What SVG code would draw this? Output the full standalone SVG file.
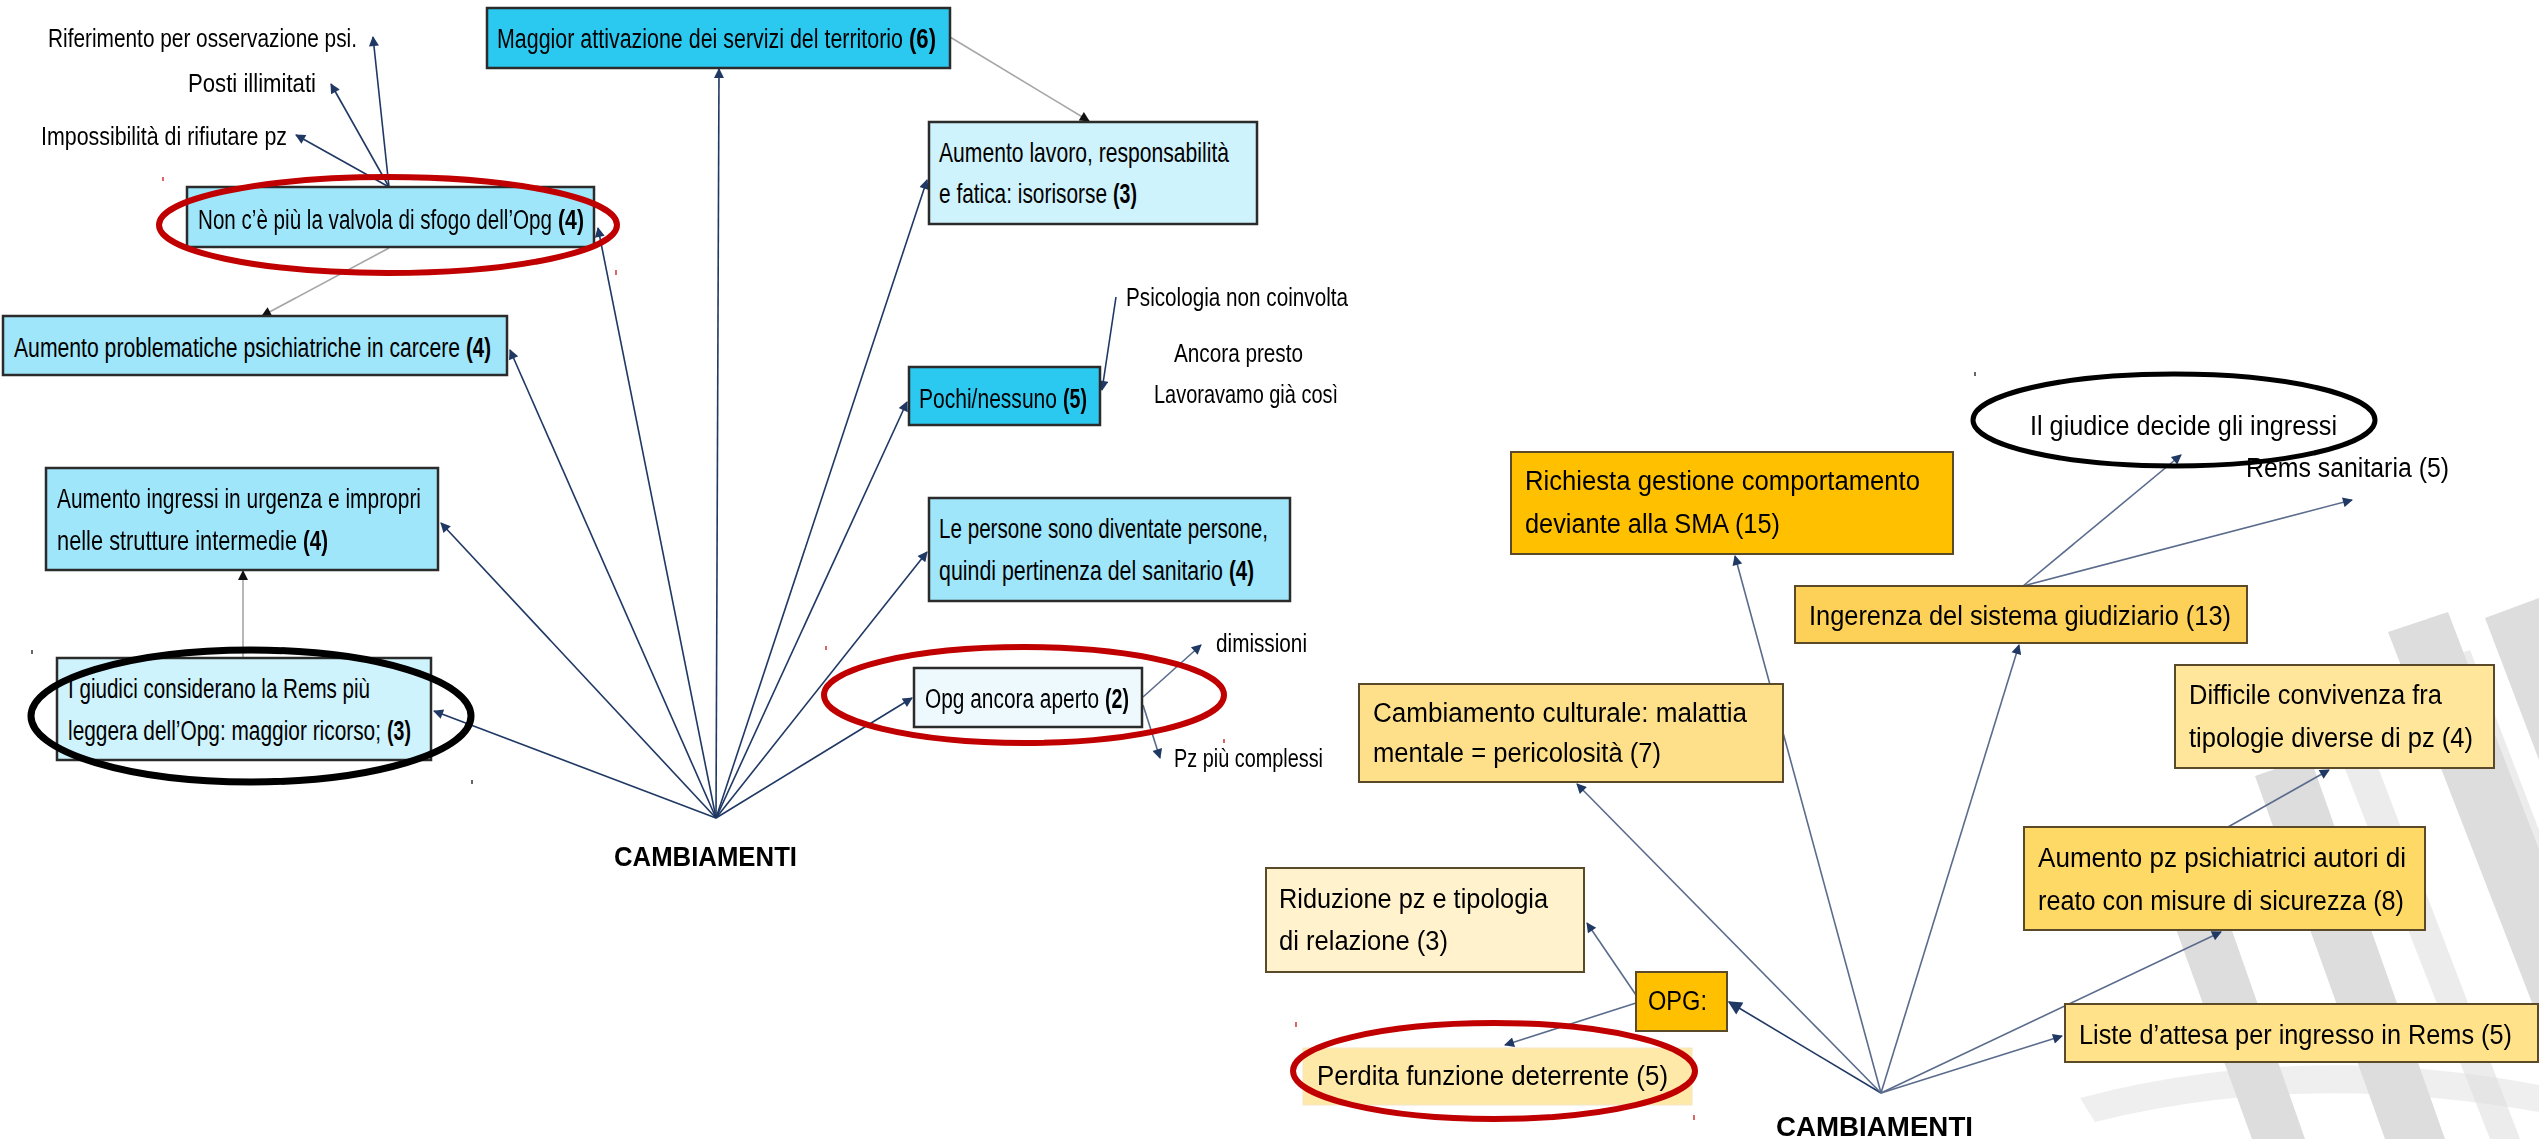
<svg xmlns="http://www.w3.org/2000/svg" width="2539" height="1139" viewBox="0 0 2539 1139">
<style>
.t{font-family:"Liberation Sans",Arial,sans-serif;fill:#000;font-size:28px}
.r{font-size:27px}
.s{font-size:25px}
.b{font-weight:bold}
.bx{stroke:#2b2b2b;stroke-width:2.5}
.by{stroke:#5a4a2a;stroke-width:2}
.c1{fill:#2bc8f0}.c2{fill:#a0e6fa}.c3{fill:#cff3fd}.c4{fill:#eef9fe}
.o1{fill:#ffc000}.o2{fill:#fdd058}.o3{fill:#fee08b}.o4{fill:#ffe69a}.o5{fill:#ffd966}.o6{fill:#ffe28a}.o7{fill:#fff2cc}
.ln{stroke:#1f3864;stroke-width:1.6;fill:none}
.lr{stroke:#5a6b8c;stroke-width:1.6;fill:none}
.lg{stroke:#a6a6a6;stroke-width:1.6;fill:none}
.ell{fill:none}
.tick{stroke-width:1.2}
</style>
<defs>
<marker id="an" viewBox="0 0 10 10" refX="9" refY="5" markerWidth="13" markerHeight="10" markerUnits="userSpaceOnUse" orient="auto"><path d="M0,0 L10,5 L0,10 z" fill="#1f3864"/></marker>
<marker id="anL" viewBox="0 0 10 10" refX="9" refY="5" markerWidth="18" markerHeight="14" markerUnits="userSpaceOnUse" orient="auto"><path d="M0,0 L10,5 L0,10 z" fill="#1f3864"/></marker>
<marker id="ab" viewBox="0 0 10 10" refX="9" refY="5" markerWidth="13" markerHeight="10" markerUnits="userSpaceOnUse" orient="auto"><path d="M0,0 L10,5 L0,10 z" fill="#111"/></marker>
</defs>
<rect width="2539" height="1139" fill="#fff"/>

<g id="watermark" fill="#8c8c8c" opacity="0.3">
<polygon points="2388,632 2448,612 2650,1139 2585,1139"/>
<polygon points="2485,618 2539,598 2539,760"/>
<polygon points="2255,776 2310,757 2445,1139 2385,1139"/>
<polygon points="2172,918 2222,902 2305,1139 2252,1139"/>
<polygon points="2320,705 2350,694 2520,1139 2490,1139" opacity="0.55"/>
<polygon points="2440,660 2470,650 2539,830 2539,900" opacity="0.55"/>
<path d="M2080,1098 Q2300,1040 2539,1085 L2539,1112 Q2300,1070 2095,1122 z" opacity="0.45"/>
</g>

<g id="connectors">
<line class="ln" x1="716" y1="818" x2="434" y2="711" stroke-width="3" marker-end="url(#an)"/>
<line class="ln" x1="716" y1="818" x2="441" y2="523" marker-end="url(#an)"/>
<line class="ln" x1="716" y1="818" x2="510" y2="350" marker-end="url(#an)"/>
<line class="ln" x1="716" y1="818" x2="598" y2="228" marker-end="url(#an)"/>
<line class="ln" x1="716" y1="818" x2="719" y2="69" marker-end="url(#an)"/>
<line class="ln" x1="716" y1="818" x2="927" y2="180" marker-end="url(#an)"/>
<line class="ln" x1="716" y1="818" x2="907" y2="402" marker-end="url(#an)"/>
<line class="ln" x1="716" y1="818" x2="927" y2="552" marker-end="url(#an)"/>
<line class="ln" x1="716" y1="818" x2="912" y2="698" stroke-width="3" marker-end="url(#an)"/>
<line class="ln" x1="389" y1="187" x2="373" y2="37" marker-end="url(#an)"/>
<line class="ln" x1="389" y1="187" x2="331" y2="84" marker-end="url(#an)"/>
<line class="ln" x1="389" y1="187" x2="296" y2="135" marker-end="url(#an)"/>
<line class="lg" x1="389" y1="248" x2="262" y2="316" marker-end="url(#ab)"/>
<line class="lg" x1="950" y1="37" x2="1089" y2="121" marker-end="url(#ab)"/>
<line class="lg" x1="243" y1="657" x2="243" y2="571" marker-end="url(#ab)"/>
<line class="ln" x1="1116" y1="297" x2="1102" y2="390" marker-end="url(#an)"/>
<line class="lr" x1="1143" y1="697" x2="1201" y2="645" marker-end="url(#an)"/>
<line class="lr" x1="1143" y1="705" x2="1160" y2="758" marker-end="url(#an)"/>
<line class="ln" x1="1881" y1="1093" x2="1729" y2="1002" stroke-width="4.5" marker-end="url(#anL)"/>
<line class="lr" x1="1881" y1="1093" x2="1577" y2="784" marker-end="url(#an)"/>
<line class="lr" x1="1881" y1="1093" x2="1735" y2="556" marker-end="url(#an)"/>
<line class="lr" x1="1881" y1="1093" x2="2019" y2="645" marker-end="url(#an)"/>
<line class="lr" x1="1881" y1="1093" x2="2221" y2="932" marker-end="url(#an)"/>
<line class="lr" x1="1881" y1="1093" x2="2062" y2="1036" marker-end="url(#an)"/>
<line class="lr" x1="2023" y1="586" x2="2181" y2="455" marker-end="url(#an)"/>
<line class="lr" x1="2023" y1="586" x2="2352" y2="500" marker-end="url(#an)"/>
<line class="lr" x1="2228" y1="827" x2="2329" y2="770" marker-end="url(#an)"/>
<line class="lr" x1="1636" y1="995" x2="1587" y2="923" marker-end="url(#an)"/>
<line class="lr" x1="1636" y1="1003" x2="1505" y2="1045" marker-end="url(#an)"/>
</g>

<g id="n-riferimento"><text class="t s" x="48" y="47" textLength="309" lengthAdjust="spacingAndGlyphs">Riferimento per osservazione psi.</text></g>
<g id="n-posti"><text class="t s" x="188" y="92" textLength="128" lengthAdjust="spacingAndGlyphs">Posti illimitati</text></g>
<g id="n-impossibilita"><text class="t s" x="41" y="145" textLength="246" lengthAdjust="spacingAndGlyphs">Impossibilità di rifiutare pz</text></g>

<g id="n-maggior"><rect class="c1 bx" x="487" y="8" width="463" height="60"/><text class="t" transform="translate(497,48) scale(0.7652,1)" textLength="530.6" lengthAdjust="spacingAndGlyphs">Maggior attivazione dei servizi del territorio</text><text class="t b" transform="translate(909,48) scale(0.79,1)" textLength="34.2" lengthAdjust="spacingAndGlyphs">(6)</text></g>
<g id="n-nonce"><rect class="c2 bx" x="187" y="187" width="407" height="60"/><text class="t" transform="translate(198,229) scale(0.7404,1)" textLength="478.1" lengthAdjust="spacingAndGlyphs">Non c’è più la valvola di sfogo dell’Opg</text><text class="t b" transform="translate(558,229) scale(0.76,1)" textLength="34.2" lengthAdjust="spacingAndGlyphs">(4)</text></g>
<g id="n-problematiche"><rect class="c2 bx" x="3" y="316" width="504" height="59"/><text class="t" transform="translate(14,357) scale(0.7562,1)" textLength="589.8" lengthAdjust="spacingAndGlyphs">Aumento problematiche psichiatriche in carcere</text><text class="t b" transform="translate(466,357) scale(0.73,1)" textLength="34.2" lengthAdjust="spacingAndGlyphs">(4)</text></g>
<g id="n-lavoro"><rect class="c3 bx" x="929" y="122" width="328" height="102"/><text class="t" x="939" y="162" textLength="290" lengthAdjust="spacingAndGlyphs">Aumento lavoro, responsabilità</text><text class="t" transform="translate(939,203) scale(0.7447,1)" textLength="225.6" lengthAdjust="spacingAndGlyphs">e fatica: isorisorse</text><text class="t b" transform="translate(1113,203) scale(0.70,1)" textLength="34.2" lengthAdjust="spacingAndGlyphs">(3)</text></g>
<g id="n-psicologia"><text class="t s" x="1126" y="306" textLength="222" lengthAdjust="spacingAndGlyphs">Psicologia non coinvolta</text></g>
<g id="n-ancora"><text class="t s" x="1174" y="362" textLength="129" lengthAdjust="spacingAndGlyphs">Ancora presto</text></g>
<g id="n-lavoravamo"><text class="t s" x="1154" y="403" textLength="184" lengthAdjust="spacingAndGlyphs">Lavoravamo già così</text></g>
<g id="n-pochi"><rect class="c1 bx" x="909" y="367" width="191" height="58"/><text class="t" transform="translate(919,408) scale(0.7512,1)" textLength="183.7" lengthAdjust="spacingAndGlyphs">Pochi/nessuno</text><text class="t b" transform="translate(1063,408) scale(0.70,1)" textLength="34.2" lengthAdjust="spacingAndGlyphs">(5)</text></g>
<g id="n-persone"><rect class="c2 bx" x="929" y="498" width="361" height="103"/><text class="t" x="939" y="538" textLength="329" lengthAdjust="spacingAndGlyphs">Le persone sono diventate persone,</text><text class="t" transform="translate(939,580) scale(0.7634,1)" textLength="372" lengthAdjust="spacingAndGlyphs">quindi pertinenza del sanitario</text><text class="t b" transform="translate(1229,580) scale(0.73,1)" textLength="34.2" lengthAdjust="spacingAndGlyphs">(4)</text></g>
<g id="n-opgaperto"><rect class="c4 bx" x="914" y="668" width="228" height="59"/><text class="t" transform="translate(925,708) scale(0.7452,1)" textLength="233.5" lengthAdjust="spacingAndGlyphs">Opg ancora aperto</text><text class="t b" transform="translate(1105,708) scale(0.70,1)" textLength="34.2" lengthAdjust="spacingAndGlyphs">(2)</text></g>
<g id="n-dimissioni"><text class="t s" x="1216" y="652" textLength="91" lengthAdjust="spacingAndGlyphs">dimissioni</text></g>
<g id="n-pzcomplessi"><text class="t s" x="1174" y="767" textLength="149" lengthAdjust="spacingAndGlyphs">Pz più complessi</text></g>
<g id="n-ingressi"><rect class="c2 bx" x="46" y="468" width="392" height="102"/><text class="t" x="57" y="508" textLength="364" lengthAdjust="spacingAndGlyphs">Aumento ingressi in urgenza e impropri</text><text class="t" transform="translate(57,550) scale(0.779,1)" textLength="308.1" lengthAdjust="spacingAndGlyphs">nelle strutture intermedie</text><text class="t b" transform="translate(303,550) scale(0.73,1)" textLength="34.2" lengthAdjust="spacingAndGlyphs">(4)</text></g>
<g id="n-giudici"><rect class="c3 bx" x="57" y="658" width="374" height="102"/><text class="t" x="68" y="698" textLength="302" lengthAdjust="spacingAndGlyphs">I giudici considerano la Rems più</text><text class="t" transform="translate(68,740) scale(0.7451,1)" textLength="420.1" lengthAdjust="spacingAndGlyphs">leggera dell’Opg: maggior ricorso;</text><text class="t b" transform="translate(387,740) scale(0.70,1)" textLength="34.2" lengthAdjust="spacingAndGlyphs">(3)</text></g>
<g id="n-cambiamenti1"><text class="t b" x="614" y="866" font-size="40" textLength="183" lengthAdjust="spacingAndGlyphs">CAMBIAMENTI</text></g>

<g id="n-richiesta"><rect class="o1 by" x="1511" y="452" width="442" height="102"/><text class="t r" x="1525" y="490" textLength="395" lengthAdjust="spacingAndGlyphs">Richiesta gestione comportamento</text><text class="t r" x="1525" y="533" textLength="255" lengthAdjust="spacingAndGlyphs">deviante alla SMA (15)</text></g>
<g id="n-ingerenza"><rect class="o2 by" x="1795" y="586" width="452" height="57"/><text class="t r" x="1809" y="625" textLength="422" lengthAdjust="spacingAndGlyphs">Ingerenza del sistema giudiziario (13)</text></g>
<g id="n-cambiamento"><rect class="o3 by" x="1359" y="684" width="424" height="98"/><text class="t r" x="1373" y="722" textLength="374" lengthAdjust="spacingAndGlyphs">Cambiamento culturale: malattia</text><text class="t r" x="1373" y="762" textLength="288" lengthAdjust="spacingAndGlyphs">mentale = pericolosità (7)</text></g>
<g id="n-giudice"><text class="t r" x="2030" y="435" textLength="307" lengthAdjust="spacingAndGlyphs">Il giudice decide gli ingressi</text></g>
<g id="n-rems"><text class="t r" x="2246" y="477" textLength="203" lengthAdjust="spacingAndGlyphs">Rems sanitaria (5)</text></g>
<g id="n-difficile"><rect class="o4 by" x="2175" y="665" width="319" height="103"/><text class="t r" x="2189" y="704" textLength="253" lengthAdjust="spacingAndGlyphs">Difficile convivenza  fra</text><text class="t r" x="2189" y="747" textLength="284" lengthAdjust="spacingAndGlyphs">tipologie diverse di pz (4)</text></g>
<g id="n-aumentopz"><rect class="o5 by" x="2024" y="827" width="401" height="103"/><text class="t r" x="2038" y="867" textLength="368" lengthAdjust="spacingAndGlyphs">Aumento pz psichiatrici autori di</text><text class="t r" x="2038" y="910" textLength="366" lengthAdjust="spacingAndGlyphs">reato con misure di sicurezza (8)</text></g>
<g id="n-liste"><rect class="o6 by" x="2065" y="1004" width="473" height="58"/><text class="t r" x="2079" y="1044" textLength="433" lengthAdjust="spacingAndGlyphs">Liste d’attesa  per ingresso in Rems (5)</text></g>
<g id="n-riduzione"><rect class="o7 by" x="1266" y="868" width="318" height="104"/><text class="t r" x="1279" y="908" textLength="269" lengthAdjust="spacingAndGlyphs">Riduzione pz e tipologia</text><text class="t r" x="1279" y="950" textLength="169" lengthAdjust="spacingAndGlyphs">di relazione (3)</text></g>
<g id="n-opg"><rect class="o1 by" x="1636" y="972" width="91" height="59"/><text class="t r" x="1648" y="1010" textLength="59" lengthAdjust="spacingAndGlyphs">OPG:</text></g>
<g id="n-perdita"><rect x="1303" y="1048" width="389" height="57" fill="#fee9a8" stroke="#f3e6c6" stroke-width="1"/><text class="t r" x="1317" y="1085" textLength="351" lengthAdjust="spacingAndGlyphs">Perdita funzione deterrente (5)</text></g>
<g id="n-cambiamenti2"><text class="t b" x="1776" y="1136" font-size="34" textLength="197" lengthAdjust="spacingAndGlyphs">CAMBIAMENTI</text></g>

<g id="highlights">
<ellipse class="ell" cx="388" cy="225" rx="229" ry="48" stroke="#c00000" stroke-width="6"/>
<ellipse class="ell" cx="251" cy="716" rx="220" ry="66" stroke="#000" stroke-width="7"/>
<ellipse class="ell" cx="1024" cy="695" rx="200" ry="48" stroke="#c00000" stroke-width="6"/>
<ellipse class="ell" cx="2174" cy="420" rx="201" ry="46" stroke="#000" stroke-width="5"/>
<ellipse class="ell" cx="1494" cy="1071" rx="201" ry="48" stroke="#c00000" stroke-width="6"/>
<g class="tick">
<line x1="163" y1="177" x2="163" y2="181" stroke="#c00000"/>
<line x1="616" y1="270" x2="616" y2="275" stroke="#c00000"/>
<line x1="32" y1="650" x2="32" y2="654" stroke="#000"/>
<line x1="472" y1="780" x2="472" y2="784" stroke="#000"/>
<line x1="826" y1="646" x2="826" y2="650" stroke="#c00000"/>
<line x1="1224" y1="739" x2="1224" y2="743" stroke="#c00000"/>
<line x1="1975" y1="372" x2="1975" y2="376" stroke="#000"/>
<line x1="1296" y1="1022" x2="1296" y2="1027" stroke="#c00000"/>
<line x1="1694" y1="1115" x2="1694" y2="1120" stroke="#c00000"/>
</g>
</g>
</svg>
